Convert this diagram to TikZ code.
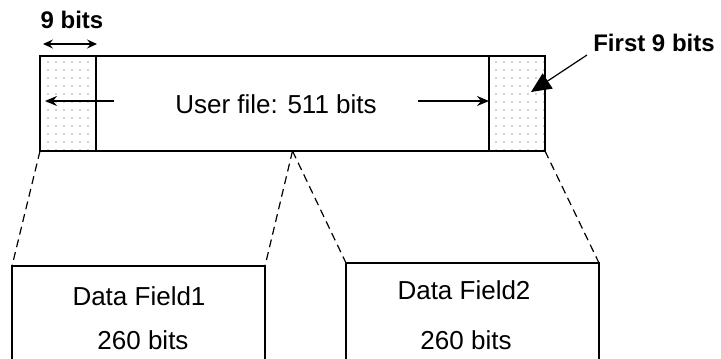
\documentclass[tikz,border=0pt]{standalone}
\usepackage{fontspec}
\setmainfont{Liberation Sans}
\usepackage{tikz}
\usetikzlibrary{arrows.meta, patterns}

\pgfdeclarepatternformonly{sparsedots}{\pgfqpoint{-1pt}{-1pt}}{\pgfqpoint{1pt}{1pt}}{\pgfqpoint{4pt}{4pt}}%
{
  \pgfpathcircle{\pgfqpoint{0pt}{0pt}}{0.35pt}
  \pgfusepath{fill}
}

\begin{document}
\begin{tikzpicture}[
  x=0.5pt, y=-0.5pt,
  box/.style={rectangle, draw=black, line width=1pt, inner sep=0pt, outer sep=0pt},
  shadebox/.style={box, pattern=sparsedots, pattern color=black!75},
  label/.style={font=\fontsize{13}{15}\selectfont, inner sep=0pt},
  blabel/.style={font=\fontsize{12}{14}\selectfont\bfseries, inner sep=0pt},
  arrow/.style={-{Stealth[length=6pt, width=5pt, inset=2pt]}, line width=0.6pt},
  bigarrow/.style={-{Triangle[length=10pt, width=9pt]}, line width=0.6pt},
  split/.style={dashed, dash pattern=on 4pt off 2.5pt, line width=0.6pt}
]
\clip (0,0) rectangle (721,358);

% user file with the two 9 bit ends
\node[box, minimum width=252.5pt, minimum height=47.5pt] (file) at (292.5,103.5) {};
\node[shadebox, minimum width=28pt, minimum height=47.5pt] (head) at (68,103.5) {};
\node[shadebox, minimum width=28pt, minimum height=47.5pt] (tail) at (517,103.5) {};
\node[label] (filetext) at (276,104) {User file: 511 bits};

\coordinate (lfrom) at (114,101);
\coordinate (lto) at (45,101);
\coordinate (rfrom) at (418,101);
\draw[arrow] (lfrom) -- (lto);
\draw[arrow] (rfrom) -- (tail.west |- rfrom);

% width of the ends
\node[blabel] (ninebits) at (72,20) {9 bits};
\coordinate (wl) at (43,44);
\coordinate (wr) at (97,44);
\draw[{Stealth[length=5pt, width=4.5pt, inset=1.8pt]}-{Stealth[length=5pt, width=4.5pt, inset=1.8pt]}, line width=0.6pt] (wl) -- (wr);

\node[blabel] (first) at (654,43) {First 9 bits};
\coordinate (fstart) at (587,55);
\coordinate (fend) at (531,92);
\draw[bigarrow] (fstart) -- (fend);

% the two data fields
\node[box, minimum width=126.5pt, minimum height=67pt] (field1) at (138.5,333) {};
\node[box, minimum width=126.5pt, minimum height=68.5pt] (field2) at (472.5,331.5) {};
\node[label] (f1name) at (139,296) {Data Field1};
\node[label] (f1bits) at (143,340) {260 bits};
\node[label] (f2name) at (464,290) {Data Field2};
\node[label] (f2bits) at (466,340) {260 bits};

\draw[split] (file.south west) -- (field1.north west);
\draw[split] (file.south) -- (field1.north east);
\draw[split] (file.south) -- (field2.north west);
\draw[split] (file.south east) -- (field2.north east);

\end{tikzpicture}
\end{document}
